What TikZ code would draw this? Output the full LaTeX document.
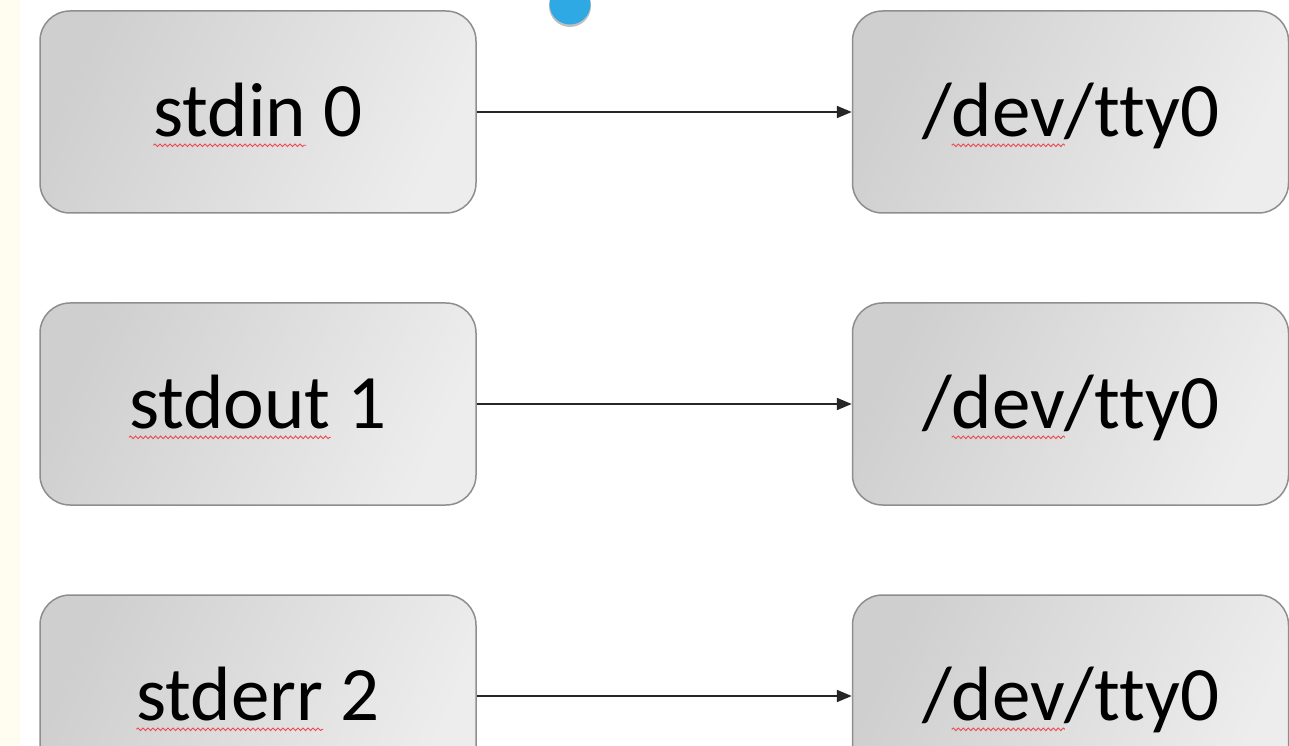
\documentclass[tikz,border=0pt]{standalone}
\usepackage{fontspec}
\setmainfont{Carlito}[Ligatures=NoCommon]
\usetikzlibrary{arrows.meta,decorations.pathmorphing}
\definecolor{spellred}{HTML}{EE4A4E}
\definecolor{boxdark}{HTML}{CFCFCF}
\definecolor{boxlight}{HTML}{EDEDED}
\definecolor{boxline}{HTML}{8E8E8E}
\definecolor{stripcol}{HTML}{FFFDF0}
\definecolor{dotblue}{HTML}{2EA9E4}
\newcommand\bigfont{\fontsize{77}{80}\selectfont}
\newlength\prew \newlength\wordw \newlength\fullw
\tikzset{
  fdbox/.style={draw=boxline, line width=1.5pt, rounded corners=30pt,
    left color=boxdark, right color=boxlight, shading angle=65,
    minimum width=436pt, minimum height=202pt, inner sep=0pt,
    font=\bigfont, text height=49.6pt, text depth=0pt},
  conn/.style={draw=black!85, line width=2pt, -{Triangle[length=15pt,width=12pt]}},
  spell/.style={draw=spellred, line width=0.9pt, decorate,
    decoration={snake, amplitude=1.3pt, segment length=5pt}}
}
% #1 name, #2 position, #3 text before, #4 marked word, #5 text after
\newcommand\fdnode[5]{%
  \node[fdbox] (#1) at #2 {%
    \setbox0\hbox{#3}\global\prew=\wd0
    \setbox0\hbox{#4}\global\wordw=\wd0
    \setbox0\hbox{#3#4#5}\global\fullw=\wd0
    #3#4#5};
  \draw[spell] ([xshift=-0.5\fullw+\prew, yshift=-8.5pt]#1.base) -- ++(\wordw,0);
}
\begin{document}
\begin{tikzpicture}[x=1pt,y=1pt]
\useasboundingbox (0,0) rectangle (1289,745);
\clip (0,0) rectangle (1289,745);
\fill[white] (0,0) rectangle (1289,745);
\fill[stripcol] (0,0) rectangle (20,745);
\fdnode{l1}{(258,633)}{}{stdin}{ 0}
\fdnode{l2}{(258,341)}{}{stdout}{ 1}
\fdnode{l3}{(258,49)}{}{stderr}{ 2}
\fdnode{r1}{(1070.5,633)}{/}{dev}{/tty0}
\fdnode{r2}{(1070.5,341)}{/}{dev}{/tty0}
\fdnode{r3}{(1070.5,49)}{/}{dev}{/tty0}
\draw[conn] (l1.east) -- (r1.west);
\draw[conn] (l2.east) -- (r2.west);
\draw[conn] (l3.east) -- (r3.west);
\fill[black!25] (570,739) circle (21pt);
\fill[dotblue] (570,741) circle (20.5pt);
\end{tikzpicture}
\end{document}
